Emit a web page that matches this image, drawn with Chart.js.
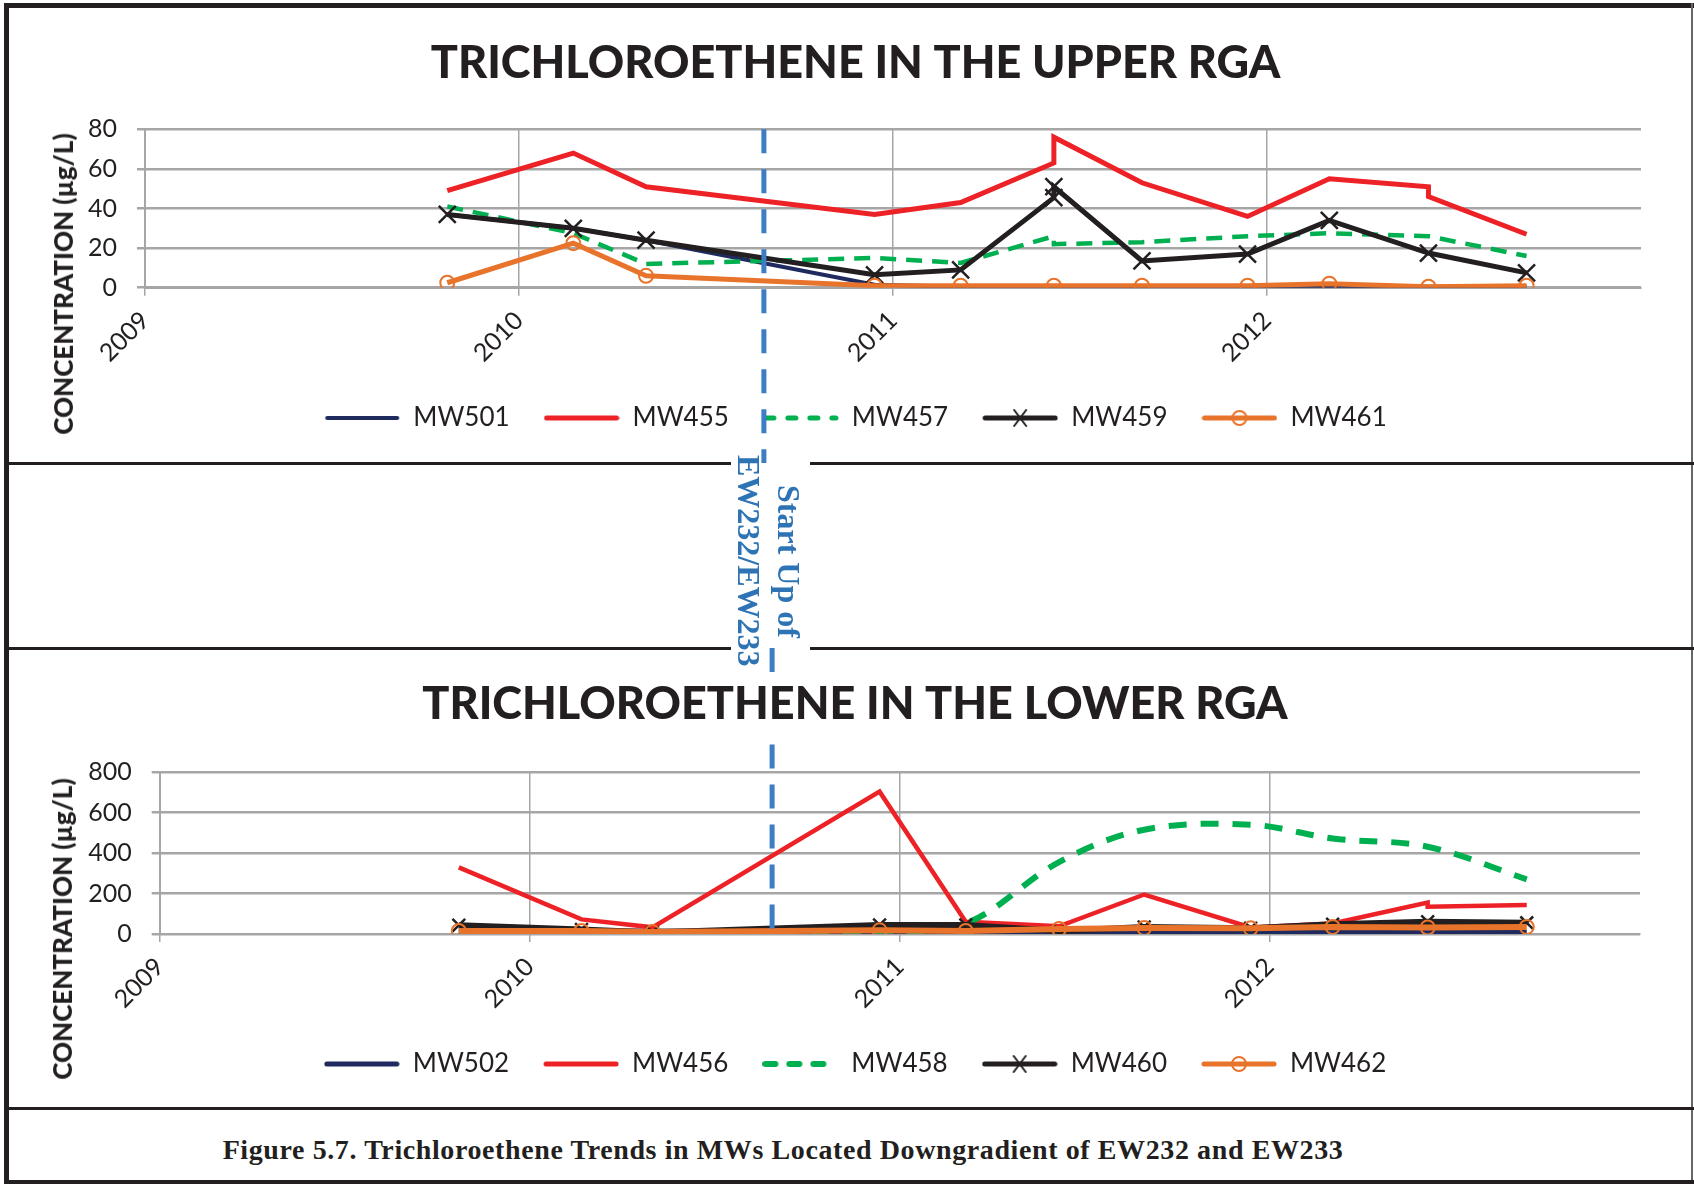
<!DOCTYPE html>
<html>
<head>
<meta charset="utf-8">
<title>Trichloroethene trends</title>
<script src="https://cdn.jsdelivr.net/npm/chart.js@4.4.0/dist/chart.umd.min.js"></script>
<style>
  html, body { margin: 0; padding: 0; background: #fff; }
  #page { position: relative; width: 1694px; height: 1184px; overflow: hidden; background: #fff; }
  canvas { position: absolute; left: 0; z-index: 1; }
  .rule { position: absolute; background: #231F20; z-index: 3; }
  .ytitle {
    position: absolute; z-index: 2; white-space: nowrap;
    font-family: Lato, sans-serif; font-weight: 900; font-size: 26px; color: #231F20;
    transform: translate(-50%, -50%) rotate(-90deg);
  }
  #startup {
    position: absolute; left: 729px; top: 450px; width: 80px; height: 222px;
    z-index: 4; writing-mode: vertical-rl; text-align: center; white-space: nowrap;
    font-family: "Liberation Serif", serif; font-weight: bold; font-size: 32px; line-height: 40px;
    color: #2E74B5;
  }
  #caption {
    position: absolute; left: 783px; top: 1150px; transform: translate(-50%, -50%);
    white-space: nowrap; z-index: 2; letter-spacing: 0.6px;
    font-family: "Liberation Serif", serif; font-weight: bold; font-size: 28px; color: #231F20;
  }
</style>
</head>
<body>
<div id="page">
  <canvas id="upperChart" width="1694" height="463" style="top:0"></canvas>
  <canvas id="lowerChart" width="1694" height="459" style="top:648px"></canvas>

  <!-- frame and separators -->
  <div class="rule" style="left:4px; top:3px; width:1690px; height:5px"></div>
  <div class="rule" style="left:4px; top:3px; width:5px; height:1181px"></div>
  <div class="rule" style="left:1691px; top:3px; width:2px; height:1181px; background:#666"></div>
  <div class="rule" style="left:9px; top:462px; width:722px; height:3px"></div>
  <div class="rule" style="left:810px; top:462px; width:884px; height:3px"></div>
  <div class="rule" style="left:9px; top:647px; width:722px; height:3px"></div>
  <div class="rule" style="left:810px; top:647px; width:884px; height:3px"></div>
  <div class="rule" style="left:4px; top:1107px; width:1690px; height:3px"></div>
  <div class="rule" style="left:4px; top:1180px; width:1690px; height:4px"></div>

  <div class="ytitle" style="left:63px; top:284px">CONCENTRATION (µg/L)</div>
  <div class="ytitle" style="left:62px; top:929px">CONCENTRATION (µg/L)</div>
  <div id="startup">Start Up of<br>EW232/EW233</div>
  <div id="caption">Figure 5.7. Trichloroethene Trends in MWs Located Downgradient of EW232 and EW233</div>
</div>

<script>
// sample dates (a duplicate date means two results on the same day)
const upperDates = ['2009-10-23', '2010-02-23', '2010-05-05', '2010-12-14', '2011-03-08', '2011-06-07', '2011-06-07',
                    '2011-09-01', '2011-12-13', '2012-03-02', '2012-06-07', '2012-06-07', '2012-09-11'];
const lowerDates = ['2009-10-23', '2010-02-21', '2010-05-02', '2010-12-12', '2011-03-07', '2011-06-07',
                    '2011-08-30', '2011-12-13', '2012-03-03', '2012-06-05', '2012-06-05', '2012-09-11'];

// upper RGA wells, µg/L
const mw501 = [37, 30, 24, 1.5, 0.5, 0.5, null, 0.5, 0.5, 0.5, 0.5, null, 0.5];
const mw455 = [49, 68, 51, 37, 43, 63, 76, 53, 36, 55, 51, 46, 27];
const mw457 = [41, 27.5, 12, 15, 12.5, 26, 22, 23, 26, 27.5, 26, null, 16];
const mw459 = [37, 30, 24, 6.5, 9, 45.5, 51, 13.5, 17, 34, 17.5, null, 7.5];
const mw461 = [2.5, 22.5, 6, 1, 1, 1, null, 1, 1, 2, 0.5, null, 1];

// lower RGA wells, µg/L
const mw502 = [15, 12, 12, 10, 8, 6, 6, 6, 6, 6, null, 6];
const mw456 = [329, 72, 33, 703, 60, 38, 195, 32, 52, 155, 135, 143];
const mw458 = [12, 10, 8, 15, 52, 355, 515, 540, 472, 431, null, 270];
const mw460 = [43, 22, 8, 45, 45, 15, 35, 28, 48, 60, null, 55];
const mw462 = [15, 15, 10, 18, 15, 25, 30, 28, 35, 32, null, 35];

const upperTicks = [0, 20, 40, 60, 80];
const lowerTicks = [0, 200, 400, 600, 800];
const yearTicks = [2009, 2010, 2011, 2012];
const startUpDate = '2010-08-28';

const NAVY = '#1F2A5E', RED = '#ED2227', GREEN = '#00B050', BLACK = '#231F20', ORANGE = '#E8732A', BLUE = '#3C7DC4';
const GRID = '#A6A6A6';
const FONT = 'Lato';
const TITLE_SIZE = 45;

function toYear(s) {
    const d = new Date(s + 'T00:00:00Z');
    const y = d.getUTCFullYear();
    const a = Date.UTC(y, 0, 1), b = Date.UTC(y + 1, 0, 1);
    return y + (d.getTime() - a) / (b - a);
}

function points(dates, vals) {
    return dates.map((d, i) => ({ x: toYear(d), y: vals[i] }));
}

// little picture of line + marker for the legend
function legendIcon(color, lw, dash, marker) {
    const c = document.createElement('canvas');
    c.width = 76; c.height = 26;
    const g = c.getContext('2d');
    g.strokeStyle = color;
    g.lineWidth = lw;
    g.lineCap = 'round';
    g.setLineDash(dash || []);
    g.beginPath(); g.moveTo(3, 13); g.lineTo(73, 13); g.stroke();
    g.setLineDash([]);
    g.lineWidth = 2;
    if (marker === 'x') {
        g.beginPath(); g.moveTo(32, 5); g.lineTo(44, 21); g.moveTo(44, 5); g.lineTo(32, 21); g.stroke();
    } else if (marker === 'o') {
        g.beginPath(); g.arc(38, 13, 7, 0, Math.PI * 2); g.stroke();
    }
    return c;
}

// dashed "start up" line at the start-up date
const startLine = {
    id: 'startLine',
    afterDatasetsDraw(chart, args, opts) {
        const x = chart.scales.x.getPixelForValue(toYear(opts.date));
        const ctx = chart.ctx;
        ctx.save();
        ctx.strokeStyle = BLUE;
        ctx.lineWidth = 5;
        ctx.setLineDash([24, 16]);
        ctx.beginPath();
        if (opts.fromTop) {
            // runs down from the top of the canvas, hidden behind the title text
            const tb = chart.titleBlock;
            const c = tb.top + tb.options.padding.top + TITLE_SIZE * 0.6;
            ctx.moveTo(x, 0); ctx.lineTo(x, c - 32);
            ctx.stroke();
            ctx.beginPath();
            ctx.moveTo(x, c + 40); ctx.lineTo(x, chart.chartArea.bottom);
        } else {
            ctx.moveTo(x, chart.chartArea.top); ctx.lineTo(x, chart.height);
        }
        ctx.stroke();
        ctx.restore();
    }
};

function series(label, dates, vals, color, width, order, extra) {
    return Object.assign({
        label: label,
        data: points(dates, vals),
        borderColor: color,
        backgroundColor: color,
        borderWidth: width,
        pointRadius: 0,
        spanGaps: true,
        tension: 0,
        order: order
    }, extra || {});
}

function buildChart(id, cfg) {
    const icons = cfg.icons;
    return new Chart(document.getElementById(id), {
        type: 'line',
        data: { datasets: cfg.datasets },
        plugins: [startLine],
        options: {
            responsive: false,
            animation: false,
            layout: { padding: { left: 70, right: cfg.right, top: 0, bottom: cfg.bottom } },
            plugins: {
                title: {
                    display: true, text: cfg.title, color: BLACK,
                    font: { family: FONT, size: TITLE_SIZE, weight: 900 },
                    padding: cfg.titlePad
                },
                legend: {
                    position: 'bottom',
                    labels: {
                        usePointStyle: true, pointStyleWidth: 76, padding: 34, color: BLACK,
                        font: { family: FONT, size: 26 },
                        generateLabels(chart) {
                            const items = Chart.defaults.plugins.legend.labels.generateLabels(chart);
                            items.sort((a, b) => a.datasetIndex - b.datasetIndex);
                            items.forEach(it => { it.pointStyle = icons[it.datasetIndex]; });
                            return items;
                        }
                    }
                },
                tooltip: { enabled: false },
                startLine: { date: startUpDate, fromTop: cfg.fromTop }
            },
            scales: {
                x: {
                    type: 'linear', min: 2009, max: 2013,
                    afterBuildTicks(axis) { axis.ticks = yearTicks.map(v => ({ value: v })); },
                    afterFit(scale) { scale.height = cfg.xHeight; },
                    grid: { color: GRID, lineWidth: 1.5, tickLength: 8 },
                    border: { color: GRID, width: 2 },
                    ticks: {
                        autoSkip: false, minRotation: 45, maxRotation: 45, padding: 10, color: BLACK,
                        font: { family: FONT, size: 25 },
                        callback: v => String(v)
                    }
                },
                y: {
                    min: cfg.yTicks[0], max: cfg.yTicks[cfg.yTicks.length - 1],
                    afterBuildTicks(axis) { axis.ticks = cfg.yTicks.map(v => ({ value: v })); },
                    afterFit(scale) { scale.width = cfg.yWidth; },
                    grid: { color: GRID, lineWidth: 2.5, tickLength: 8 },
                    border: { color: GRID, width: 2 },
                    ticks: { padding: 20, color: BLACK, font: { family: FONT, size: 25 } }
                }
            }
        }
    });
}

const xMark = { pointStyle: 'crossRot', pointRadius: 12, pointBorderWidth: 2.5, pointBorderColor: BLACK };
const oMark = { pointStyle: 'circle', pointRadius: 7, pointBorderWidth: 2, pointBorderColor: ORANGE, pointBackgroundColor: 'rgba(0,0,0,0)' };

buildChart('upperChart', {
    title: 'TRICHLOROETHENE IN THE UPPER RGA',
    titlePad: { top: 36, bottom: 39.3 },
    right: 53, bottom: 22, xHeight: 83.3, yWidth: 75,
    yTicks: upperTicks, fromTop: false,
    datasets: [
        series('MW501', upperDates, mw501, NAVY, 4, 5),
        series('MW455', upperDates, mw455, RED, 5, 4),
        series('MW457', upperDates, mw457, GREEN, 4.5, 3, { borderDash: [16, 10] }),
        series('MW459', upperDates, mw459, BLACK, 5, 2, xMark),
        series('MW461', upperDates, mw461, ORANGE, 5, 1, oMark)
    ],
    icons: [
        legendIcon(NAVY, 4),
        legendIcon(RED, 5),
        legendIcon(GREEN, 5, [8, 14]),
        legendIcon(BLACK, 5, null, 'x'),
        legendIcon(ORANGE, 5, null, 'o')
    ]
});

buildChart('lowerChart', {
    title: 'TRICHLOROETHENE IN THE LOWER RGA',
    titlePad: { top: 29.5, bottom: 40.5 },
    right: 54, bottom: 20, xHeight: 83, yWidth: 89.7,
    yTicks: lowerTicks, fromTop: true,
    datasets: [
        series('MW502', lowerDates, mw502, NAVY, 6, 5),
        series('MW456', lowerDates, mw456, RED, 4.5, 4),
        series('MW458', lowerDates, mw458, GREEN, 6, 3, { borderDash: [18, 14], tension: 0.35 }),
        series('MW460', lowerDates, mw460, BLACK, 6, 2, Object.assign({}, xMark, { pointRadius: 9 })),
        series('MW462', lowerDates, mw462, ORANGE, 6, 1, oMark)
    ],
    icons: [
        legendIcon(NAVY, 5),
        legendIcon(RED, 5),
        legendIcon(GREEN, 6, [10, 14]),
        legendIcon(BLACK, 5, null, 'x'),
        legendIcon(ORANGE, 5, null, 'o')
    ]
});
</script>
</body>
</html>
